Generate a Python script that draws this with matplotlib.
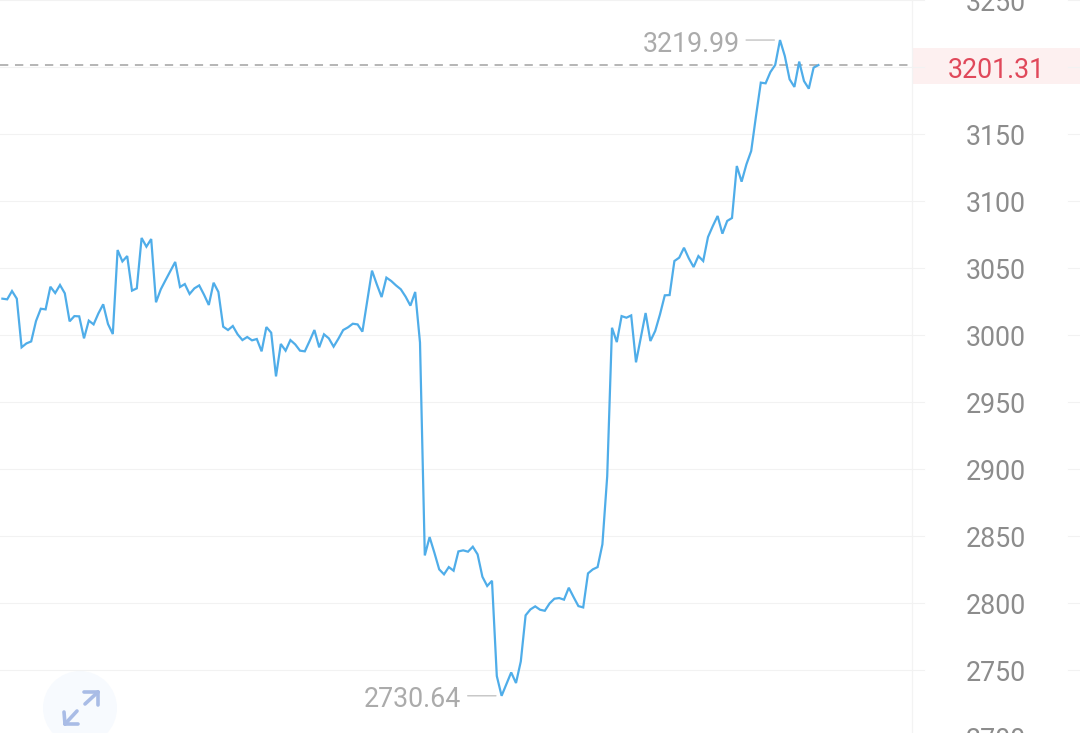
import matplotlib

matplotlib.use("Agg")
import matplotlib.pyplot as plt
import numpy as np
from matplotlib.patches import Circle, Rectangle

# index values, left to right
prices = [
    3027.0, 3026.5, 3032.7, 3027.0, 2990.7, 2993.6, 2995.1, 3010.3, 3019.5, 3019.0,
    3035.9, 3031.2, 3037.2, 3031.0, 3010.1, 3014.0, 3013.8, 2997.4, 3010.6, 3007.8,
    3016.0, 3022.8, 3008.1, 3000.6, 3063.3, 3054.8, 3058.8, 3033.0, 3034.7, 3072.3,
    3065.8, 3071.5, 3024.3, 3034.0, 3040.9, 3047.6, 3054.4, 3035.7, 3037.9, 3030.5,
    3034.7, 3036.9, 3030.0, 3022.3, 3038.9, 3032.0, 3006.1, 3003.6, 3006.6, 3000.4,
    2996.1, 2998.4, 2995.9, 2996.9, 2987.7, 3005.8, 3001.6, 2969.0, 2993.2, 2988.2,
    2996.1, 2992.9, 2988.2, 2987.7, 2995.4, 3003.6, 2990.7, 3000.4, 2997.4, 2991.2,
    2997.1, 3003.6, 3005.6, 3008.3, 3007.8, 3002.4, 3025.0, 3047.9, 3037.7, 3028.2,
    3042.7, 3040.2, 3036.9, 3034.0, 3028.5, 3021.8, 3032.0, 2994.2, 2835.4, 2849.1,
    2837.4, 2825.0, 2821.3, 2826.7, 2824.0, 2838.4, 2839.2, 2838.2, 2841.9, 2836.2,
    2819.5, 2812.6, 2816.5, 2745.4, 2730.64, 2739.4, 2748.1, 2740.2, 2756.3, 2790.7,
    2795.1, 2797.4, 2794.9, 2794.1, 2799.6, 2803.1, 2803.6, 2802.4, 2811.3, 2804.3,
    2797.6, 2796.6, 2822.0, 2825.0, 2826.7, 2843.7, 2894.4, 3005.3, 2994.6, 3014.0,
    3012.8, 3014.5, 2979.5, 2998.1, 3016.3, 2995.4, 3002.9, 3015.3, 3029.5, 3029.7,
    3055.1, 3057.6, 3065.0, 3057.1, 3050.6, 3058.8, 3055.1, 3073.0, 3081.2, 3088.7,
    3075.5, 3085.0, 3087.2, 3126.0, 3114.3, 3127.2, 3137.2, 3163.3, 3188.2, 3187.7,
    3196.1, 3201.4, 3219.99, 3208.1, 3190.7, 3185.0, 3203.9, 3189.4, 3183.7, 3199.4,
    3201.31,
]
tick_values = [2700, 2750, 2800, 2850, 2900, 2950, 3000, 3050, 3100, 3150, 3250]
last_price = 3201.31
high_price = 3219.99
low_price = 2730.64

plt.rcParams["font.family"] = ["Roboto", "DejaVu Sans"]

fig = plt.figure(figsize=(10.8, 7.33), dpi=100, facecolor="white")
axis = fig.add_axes([0, 0, 1, 1])
axis.set_xlim(-0.5, 224.5)
axis.set_ylim(2702.9, 3249.87)
axis.axis("off")

# pixel overlay for the price column and the round button
overlay = fig.add_axes([0, 0, 1, 1], zorder=-1)
overlay.set_xlim(0, 1080)
overlay.set_ylim(733, 0)
overlay.axis("off")
overlay.add_patch(Rectangle((912, 48), 168, 36, facecolor="#fdf0f0", edgecolor="none"))
overlay.plot([912, 912], [0, 733], color="#f3f3f3", lw=0.9)
overlay.add_patch(Circle((80, 708), 37, facecolor="#f7fafe", edgecolor="none"))
for x0, y0, x1, y1 in [(84, 692, 98, 692), (98, 692, 98, 705), (98, 692, 85, 704),
                       (64, 712, 65, 724), (65, 724, 78, 724), (65, 724, 77, 711)]:
    overlay.plot([x0, x1], [y0, y1], color="#a9bce6", lw=2.6, solid_capstyle="round")

for value in tick_values + [3200]:
    axis.plot([0, 924 / 1080], [value, value], color="#f2f2f2", lw=0.8,
              transform=axis.get_yaxis_transform(), zorder=1)
    axis.plot([1068 / 1080, 1], [value, value], color="#f2f2f2", lw=0.8,
              transform=axis.get_yaxis_transform(), zorder=1)
    if value != 3200:
        axis.text(996 / 1080, value - 0.7, str(value), color="#8c8c8c", fontsize=19.3, ha="center",
                  va="center_baseline", transform=axis.get_yaxis_transform(), clip_on=False)

axis.plot([0, 910 / 1080], [last_price, last_price], color="#b0b0b0", lw=1.3,
          dashes=(4.6, 3.7), transform=axis.get_yaxis_transform(), zorder=2)
axis.text(996 / 1080, last_price - 1.7, f"{last_price:.2f}", color="#e0485a", fontsize=19.3,
          ha="center", va="center_baseline", transform=axis.get_yaxis_transform())

x_values = np.arange(len(prices))
axis.plot(x_values, prices, color="#4fade9", lw=1.6, solid_joinstyle="miter", zorder=3)

high_index = prices.index(high_price)
low_index = prices.index(low_price)
axis.annotate("", xy=(high_index, high_price), xytext=(-34, 0), textcoords="offset pixels",
              arrowprops=dict(arrowstyle="-", color="#b4b4b4", lw=0.8, shrinkA=0, shrinkB=4))
axis.annotate(f"{high_price:.2f}", xy=(high_index, high_price), xytext=(-40, -1),
              textcoords="offset pixels", color="#ababab", fontsize=19.3, ha="right",
              va="center_baseline")
axis.annotate("", xy=(low_index, low_price), xytext=(-34, 0), textcoords="offset pixels",
              arrowprops=dict(arrowstyle="-", color="#b4b4b4", lw=0.8, shrinkA=0, shrinkB=4))
axis.annotate(f"{low_price:.2f}", xy=(low_index, low_price), xytext=(-41, -1),
              textcoords="offset pixels", color="#ababab", fontsize=19.3, ha="right",
              va="center_baseline")

fig.savefig("out.png", dpi=100, facecolor="white")
plt.close(fig)
